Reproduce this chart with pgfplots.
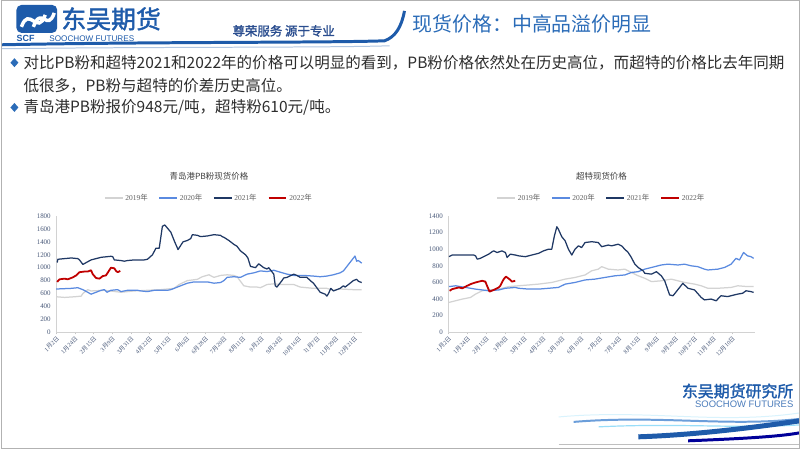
\documentclass[border=0pt]{standalone}
\usepackage{fontspec}
\usepackage{pgfplots}
\pgfplotsset{compat=1.18}
\setmainfont{Liberation Serif}
\newfontfamily\cjk{Noto Sans CJK SC}
\newfontfamily\cjkb[FakeBold=1.6]{Noto Sans CJK SC}
\newfontfamily\lsans{Liberation Sans}

\definecolor{c2019}{RGB}{211,211,211}
\definecolor{c2020}{RGB}{90,138,224}
\definecolor{c2021}{RGB}{31,56,100}
\definecolor{c2022}{RGB}{192,0,0}
\definecolor{logoblue}{RGB}{30,91,170}
\definecolor{titleblue}{RGB}{43,108,184}
\definecolor{sloganblue}{RGB}{42,77,143}
\definecolor{ticktext}{RGB}{74,90,122}
\definecolor{bodytext}{RGB}{45,45,45}

% month / day label, digits in serif, CJK in Noto
\newcommand{\md}[2]{#1{\cjk 月}#2{\cjk 日}}
\newcommand{\yr}[1]{#1{\cjk 年}}

\pgfplotsset{
  slidechart/.style={
    scale only axis,
    width=307pt, height=117pt,
    xmin=0, ymin=0,
    clip=false,
    axis x line*=bottom, axis y line*=left,
    axis line style={-, gray!35},
    tick align=outside,
    major tick length=2pt,
    xtick style={gray!45},
    ytick style={draw=none},
    xtick={0,...,16},
    x tick label style={rotate=45, anchor=north east, inner sep=1pt,
                        font=\fontsize{6}{6}\selectfont, text=ticktext},
    y tick label style={font=\fontsize{7}{7}\selectfont, text=ticktext},
    /pgf/number format/assume math mode=true,
    /pgf/number format/1000 sep={},
    scaled y ticks=false,
    every axis plot/.append style={line width=1.25pt, line join=round},
    legend style={at={(0.5,1.155)}, anchor=center, draw=none, fill=none,
                  legend columns=4, font=\fontsize{7.5}{7.5}\selectfont,
                  text=gray!75!black,
                  /tikz/every even column/.append style={column sep=9pt}},
    legend image code/.code={\draw[##1] (0pt,0pt) -- (18pt,0pt);},
  },
}

\begin{document}
\begin{tikzpicture}[x=1pt,y=1pt]
\fill[white] (0,0) rectangle (802,451);

% ---- header ----
\fill[logoblue, rounded corners=5pt] (15,418) rectangle (56,446);
\draw[white, line width=3.5pt] (20,424) .. controls (28,446) and (36,414) .. (44,436);
\draw[white, line width=3.5pt] (32,424) .. controls (40,446) and (46,418) .. (53,438);
\node[anchor=west, text=logoblue, inner sep=0] at (60,432) {\cjkb\fontsize{25}{25}\selectfont 东吴期货};
\node[anchor=west, text=logoblue, inner sep=0] at (15,412) {\lsans\bfseries\fontsize{9}{9}\selectfont SCF};
\node[anchor=west, text=logoblue, inner sep=0] at (48,412) {\lsans\fontsize{8.2}{8.2}\selectfont SOOCHOW FUTURES};
\node[anchor=west, text=sloganblue, inner sep=0] at (232,420) {\cjkb\fontsize{12.5}{12.5}\selectfont 尊荣服务\ 源于专业};
\draw[logoblue, line width=3pt] (0,406) .. controls (150,409) and (330,408) .. (385,410)
      .. controls (396,414) and (402,424) .. (405,440);
\draw[logoblue!35, line width=1pt] (0,402) .. controls (150,404) and (330,403) .. (390,405);
\node[anchor=west, text=titleblue, inner sep=0] at (413,427) {\cjk\fontsize{20}{20}\selectfont 现货价格：中高品溢价明显};

% ---- bullets ----
\fill[titleblue] (13,383.5) -- (17,388) -- (13,392.5) -- (9,388) -- cycle;
\node[anchor=west, text=bodytext, inner sep=0] at (22,388) {\cjk\fontsize{15.6}{15.6}\selectfont 对比PB粉和超特2021和2022年的价格可以明显的看到，PB粉价格依然处在历史高位，而超特的价格比去年同期};
\node[anchor=west, text=bodytext, inner sep=0] at (22,365) {\cjk\fontsize{15.6}{15.6}\selectfont 低很多，PB粉与超特的价差历史高位。};
\fill[titleblue] (13,338.5) -- (17,343) -- (13,347.5) -- (9,343) -- cycle;
\node[anchor=west, text=bodytext, inner sep=0] at (22,343) {\cjk\fontsize{15.6}{15.6}\selectfont 青岛港PB粉报价948元/吨，超特粉610元/吨。};

% ---- left chart: Qingdao PB fines ----
\begin{axis}[slidechart, at={(55pt,117pt)}, anchor=south west,
  xmax=16.4, ymax=1800, ytick={0,200,...,1800},
  xticklabels={\md{1}{2},\md{1}{24},\md{2}{15},\md{3}{9},\md{3}{31},\md{4}{22},
    \md{5}{15},\md{6}{6},\md{6}{28},\md{7}{20},\md{8}{11},\md{9}{2},\md{9}{24},
    \md{10}{16},\md{11}{7},\md{11}{29},\md{12}{21}},
]
\addplot[c2019] coordinates {
(0,550) (0.45,540) (0.98,550) (1.34,560) (1.43,600) (1.69,660) (1.87,640) (2.58,650)
(3.48,620) (4.19,640) (4.90,650) (5.61,660) (6.33,680) (6.60,740) (7.04,800) (7.58,820)
(7.84,860) (8.20,890) (8.47,850) (8.82,880) (9.18,890) (9.54,880) (9.71,860) (10.07,720)
(10.43,700) (10.78,700) (10.96,690) (11.32,740) (11.68,750) (12.03,740) (12.75,740)
(13.10,700) (13.46,690) (13.81,680) (14.53,680) (14.88,650) (15.24,670) (15.95,660) (16.40,660)
};
\addlegendentry{\yr{2019}}
\addplot[c2020] coordinates {
(0,670) (0.8,680) (1.16,690) (1.43,660) (1.69,620) (1.87,590) (2.05,610) (2.41,650)
(2.58,660) (2.73,620) (2.94,650) (3.30,660) (3.48,630) (3.83,650) (4.37,650) (4.55,640)
(4.90,630) (5.26,650) (5.97,650) (6.15,660) (6.33,680) (6.68,720) (7.04,760) (7.40,780)
(8.11,780) (8.47,760) (8.82,770) (9.00,800) (9.18,850) (9.54,860) (9.89,850) (10.25,900)
(10.61,920) (10.96,950) (11.32,940) (11.68,960) (12.03,930) (12.39,900) (12.75,880)
(13.28,880) (13.81,870) (14.17,860) (14.53,870) (14.88,890) (15.24,920) (15.42,950)
(15.69,1050) (16.04,1180) (16.13,1100) (16.22,1110) (16.40,1070)
};
\addlegendentry{\yr{2020}}
\addplot[c2021] coordinates {
(0.05,1080) (0.09,1130) (0.45,1140) (0.8,1150) (1.16,1140) (1.25,1120) (1.43,1050)
(1.87,1120) (2.41,1160) (2.94,1176) (3.03,1170) (3.12,1120) (3.48,1110) (3.65,1100)
(3.83,1110) (4.19,1120) (4.72,1120) (4.90,1130) (5.17,1200) (5.35,1300) (5.53,1300)
(5.70,1640) (5.83,1660) (6.15,1550) (6.36,1400) (6.54,1280) (6.81,1400) (7.04,1420)
(7.22,1450) (7.31,1510) (7.58,1500) (7.75,1480) (8.11,1490) (8.47,1510) (8.82,1500)
(8.91,1480) (9.00,1470) (9.27,1420) (9.54,1360) (9.71,1330) (9.89,1260) (10.16,1200)
(10.29,1150) (10.43,1020) (10.70,1000) (10.87,1060) (11.14,1000) (11.32,980) (11.41,1000)
(11.68,900) (11.76,720) (11.85,700) (12.12,800) (12.21,840) (12.39,850) (12.75,900)
(12.92,880) (13.10,850) (13.46,850) (13.64,800) (13.81,760) (14.17,620) (14.44,590)
(14.53,560) (14.62,600) (14.74,680) (14.88,640) (15.06,660) (15.24,680) (15.42,720)
(15.51,700) (15.69,740) (15.95,800) (16.13,820) (16.22,790) (16.40,770)
};
\addlegendentry{\yr{2021}}
\addplot[c2022, line width=1.8pt] coordinates {
(0.05,780) (0.18,820) (0.45,830) (0.62,820) (0.89,850) (1.07,880) (1.25,930) (1.52,940)
(1.69,940) (1.87,960) (1.96,900) (2.14,840) (2.32,830) (2.50,870) (2.67,880) (2.85,960)
(2.94,1000) (3.12,990) (3.21,950) (3.30,930) (3.44,950)
};
\addlegendentry{\yr{2022}}
\node[text=black!75, font=\cjk\fontsize{8.5}{8.5}\selectfont]
  at (rel axis cs:0.5,1.342) {青岛港PB粉现货价格};
\end{axis}

% ---- right chart: super special fines ----
\begin{axis}[slidechart, at={(449pt,117pt)}, anchor=south west, width=308pt,
  xmax=16.2, ymax=1400, ytick={0,200,...,1400}, xtick={0,...,15},
  xticklabels={\md{1}{2},\md{1}{24},\md{2}{15},\md{3}{9},\md{3}{31},\md{4}{23},
    \md{5}{19},\md{6}{10},\md{7}{2},\md{7}{24},\md{8}{15},\md{9}{6},\md{9}{28},
    \md{10}{27},\md{11}{18},\md{12}{10}},
]
\addplot[c2019] coordinates {
(0.04,360) (0.39,380) (0.74,400) (1.18,420) (1.44,460) (1.79,500) (2.14,510) (2.67,520)
(3.19,550) (3.72,560) (4.25,570) (4.77,580) (5.47,600) (6.18,640) (6.70,660) (7.23,690)
(7.58,740) (7.93,760) (8.11,790) (8.46,760) (8.98,750) (9.33,760) (9.68,720) (10.04,680)
(10.39,650) (10.74,610) (11.26,620) (11.79,640) (12.14,620) (12.49,600) (13.02,580)
(13.37,560) (13.72,530) (14.25,530) (14.95,540) (15.30,560) (15.82,550) (16.14,550)
};
\addlegendentry{\yr{2019}}
\addplot[c2020] coordinates {
(0.04,550) (0.39,560) (0.91,540) (1.44,520) (1.79,510) (2.14,500) (2.67,510) (3.02,530)
(3.54,540) (3.72,530) (4.25,520) (4.77,520) (5.30,530) (5.82,540) (6.18,580) (6.70,600)
(7.23,630) (7.75,640) (8.28,660) (8.81,680) (9.33,690) (9.68,720) (10.04,730) (10.39,760)
(10.74,780) (11.26,810) (11.61,820) (12.14,810) (12.49,820) (12.84,800) (13.19,790)
(13.54,760) (13.72,750) (14.25,760) (14.60,780) (14.95,820) (15.21,890) (15.39,870)
(15.61,960) (15.82,920) (16.00,910) (16.14,890)
};
\addlegendentry{\yr{2020}}
\addplot[c2021] coordinates {
(0.04,910) (0.21,930) (1.35,930) (1.44,920) (1.53,880) (1.70,890) (1.96,920) (2.14,940)
(2.32,970) (2.40,980) (2.58,960) (2.84,980) (3.02,960) (3.11,900) (3.28,940) (3.54,930)
(3.72,920) (4.07,910) (4.42,930) (4.77,950) (5.04,980) (5.30,1000) (5.47,1000) (5.61,1160)
(5.74,1270) (5.82,1240) (6.00,1150) (6.18,1100) (6.35,1000) (6.53,930) (6.70,1000)
(6.88,1040) (7.05,1020) (7.23,1080) (7.58,1090) (7.93,1080) (8.11,1030) (8.46,1050)
(8.63,1040) (8.98,1060) (9.16,1040) (9.33,1000) (9.51,960) (9.68,900) (9.86,820)
(10.04,780) (10.30,740) (10.39,710) (10.74,700) (11.00,730) (11.26,680) (11.44,620)
(11.70,450) (11.88,440) (12.23,540) (12.40,590) (12.67,530) (13.02,510) (13.37,420)
(13.54,390) (13.89,400) (14.16,380) (14.42,440) (14.77,430) (15.12,450) (15.30,460)
(15.56,470) (15.74,500) (16.00,490) (16.14,480)
};
\addlegendentry{\yr{2021}}
\addplot[c2022, line width=1.8pt] coordinates {
(0.07,500) (0.21,520) (0.56,540) (0.74,530) (1.00,560) (1.18,580) (1.44,600) (1.61,610)
(1.79,620) (1.96,610) (2.05,560) (2.18,490) (2.40,510) (2.67,540) (2.75,560) (2.93,640)
(3.05,670) (3.23,640) (3.37,610) (3.54,620)
};
\addlegendentry{\yr{2022}}
\node[text=black!75, font=\cjk\fontsize{8.5}{8.5}\selectfont]
  at (rel axis cs:0.5,1.342) {超特现货价格};
\end{axis}

% ---- footer logo ----
\node[anchor=east, text=logoblue, inner sep=0] at (796,58) {\cjkb\fontsize{16}{16}\selectfont 东吴期货研究所};
\node[anchor=east, text=logoblue!80, inner sep=0] at (796,45) {\lsans\fontsize{9.5}{9.5}\selectfont SOOCHOW FUTURES};
\draw[cyan!15, line width=1pt] (560,32) .. controls (650,40) and (720,24) .. (802,36);
\draw[cyan!55!blue!60, line width=2pt] (575,27) .. controls (660,34) and (730,22) .. (802,30);
\draw[cyan!40, line width=1.2pt] (600,22) .. controls (680,26) and (740,20) .. (802,24);
\draw[logoblue, line width=5pt] (640,12) .. controls (700,14) and (760,22) .. (802,28);
\draw[blue!60!black, line width=3pt] (690,8) .. controls (740,10) and (780,12) .. (802,16);
\draw[gray!50, line width=1pt] (560,4) -- (802,4);

\draw[gray!60, line width=0.8pt] (0.4,0.4) rectangle (801.6,450.6);
\useasboundingbox (0,0) rectangle (802,451);
\end{tikzpicture}
\end{document}
